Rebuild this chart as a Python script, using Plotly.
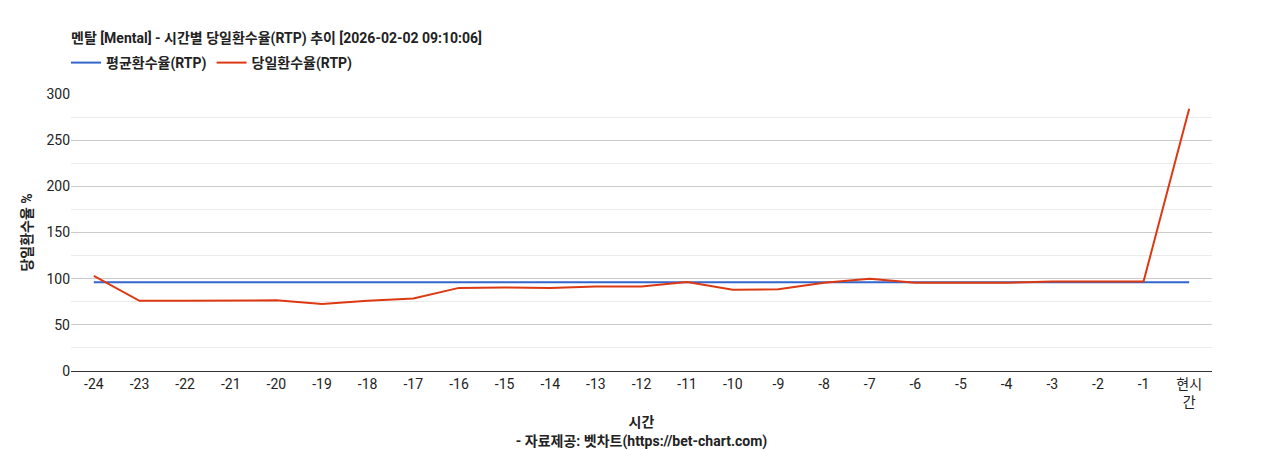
import plotly.graph_objects as go

hours = ["-24", "-23", "-22", "-21", "-20", "-19", "-18", "-17", "-16", "-15", "-14", "-13",
         "-12", "-11", "-10", "-9", "-8", "-7", "-6", "-5", "-4", "-3", "-2", "-1", "현시<br>간"]
today_rtp = [103, 76, 76, 76.5, 76.5, 72.6, 76, 78.5, 90, 90.5, 90, 91.5,
             91.5, 96.5, 88, 88.5, 95.5, 100, 95.5, 95.5, 95.5, 97, 97, 97, 284]
avg_rtp = [96] * len(hours)

font = "Roboto, 'Noto Sans CJK KR', sans-serif"

fig = go.Figure()
fig.add_trace(go.Scatter(x=hours, y=avg_rtp, mode="lines", name="평균환수율(RTP)",
                         line=dict(color="#3366cc", width=2)))
fig.add_trace(go.Scatter(x=hours, y=today_rtp, mode="lines", name="당일환수율(RTP)",
                         line=dict(color="#dc3912", width=2)))

fig.update_layout(
    width=1268, height=450,
    plot_bgcolor="white", paper_bgcolor="white",
    font=dict(family=font, size=14, color="#222"),
    margin=dict(l=63, r=64, t=86, b=87, autoexpand=False),
    title=dict(text="<b>멘탈 [Mental] - 시간별 당일환수율(RTP) 추이 [2026-02-02 09:10:06]</b>",
               xref="container", x=63 / 1268, xanchor="left",
               yref="container", y=1 - 30 / 450, yanchor="middle",
               font=dict(size=14)),
    legend=dict(orientation="h", xref="container", x=58 / 1268, xanchor="left",
                yref="container", y=1 - 55 / 450, yanchor="middle",
                font=dict(size=14, weight="bold")),
)
fig.update_xaxes(
    type="category", range=[-0.5, 24.5], showgrid=False, showline=True,
    linecolor="#333", ticks="",
    title=dict(text="<b>시간</b><br><b>- 자료제공: 벳차트(https://bet-chart.com)</b>",
               font=dict(size=14), standoff=8),
)
fig.update_yaxes(
    range=[0, 300], dtick=50, gridcolor="#cccccc", zeroline=False,
    minor=dict(dtick=25, showgrid=True, gridcolor="#ebebeb"),
    title=dict(text="<b>당일환수율 %</b>", font=dict(size=14), standoff=10),
)
fig.write_html("out.html")
